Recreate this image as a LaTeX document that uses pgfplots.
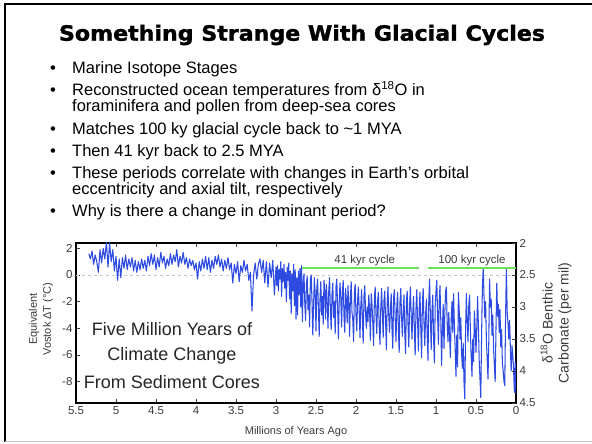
\documentclass[border=0pt]{standalone}
\usepackage{fontspec}
\setmainfont{Liberation Sans}
\newfontfamily\titlefont{DejaVu Sans}[BoldFeatures={FakeBold=1.5}]
\usepackage{graphicx}
\usepackage{pgfplots}
\pgfplotsset{compat=1.18}
\definecolor{dblue}{RGB}{45,75,225}
\definecolor{lgreen}{RGB}{110,225,90}
\definecolor{tickgray}{RGB}{60,60,60}
\begin{document}
\begin{tikzpicture}[x=1pt,y=1pt]
\useasboundingbox (0,0) rectangle (592,444);
\fill[white] (0,0) rectangle (592,444);
\draw[line width=2.5pt] (5,2) -- (5,440) -- (592,440);
\draw[gray!45, line width=1pt] (5,2) -- (592,2);
% title
\node[anchor=center, inner sep=0pt] at (302,409) {\resizebox{486pt}{\height}{\fontsize{21}{25}\titlefont\bfseries Something Strange With Glacial Cycles}};
% bullets
\begin{scope}[every node/.style={anchor=base west, inner sep=0pt, font=\fontsize{16.5}{19}\selectfont}]
\node[anchor=base] at (53,370) {•}; \node at (72,370) {Marine Isotope Stages};
\node[anchor=base] at (53,348) {•}; \node at (72,348) {Reconstructed ocean temperatures from δ\textsuperscript{18}O in};
\node at (72,332) {foraminifera and pollen from deep-sea cores};
\node[anchor=base] at (53,309) {•}; \node at (72,309) {Matches 100 ky glacial cycle back to \textasciitilde1 MYA};
\node[anchor=base] at (53,287) {•}; \node at (72,287) {Then 41 kyr back to 2.5 MYA};
\node[anchor=base] at (53,265) {•}; \node at (72,265) {These periods correlate with changes in Earth’s orbital};
\node at (72,249) {eccentricity and axial tilt, respectively};
\node[anchor=base] at (53,227) {•}; \node at (72,227) {Why is there a change in dominant period?};
\end{scope}
% axis labels
\node[rotate=90, align=center, font=\fontsize{11}{14}\selectfont, text=tickgray] at (41,125) {Equivalent\\Vostok ΔT (°C)};
\node[rotate=90, align=center, font=\fontsize{14}{16}\selectfont, text=tickgray] at (556,121) {δ\textsuperscript{18}O Benthic\\Carbonate (per mil)};
\node[font=\fontsize{11}{13}\selectfont, text=tickgray] at (296,12) {Millions of Years Ago};
\begin{axis}[
  at={(76pt,41pt)}, anchor=south west, scale only axis, width=440pt, height=160pt,
  xmin=0, xmax=5.5, x dir=reverse, ymin=-9.6, ymax=2.4, enlargelimits=false,
  xtick={5.5,5,4.5,4,3.5,3,2.5,2,1.5,1,0.5,0},
  xticklabels={5.5,5,4.5,4,3.5,3,2.5,2,1.5,1,0.5,0},
  ytick={-8,-6,-4,-2,0,2}, yticklabels={-8,-6,-4,-2,0,2},
  tick align=inside, major tick length=4pt, ytick pos=left,
  tick style={tickgray, line width=0.6pt},
  tick label style={font=\fontsize{11.5}{13}\selectfont, text=tickgray},
  axis line style={line width=1.1pt, black},
]
\addplot[gray!45, dashed, line width=0.8pt] coordinates {(5.5,0) (0,0)};
\addplot[dblue, line width=1.05pt, line join=round] coordinates {
(5.34,1.6) (5.32,1.2) (5.30,1.8) (5.28,0.8) (5.26,1.5) (5.24,1.0) (5.22,0.2) (5.20,1.9) (5.18,0.9) (5.16,2.0) (5.14,1.2) (5.12,2.5) (5.10,0.6) (5.08,2.4) (5.06,1.0) (5.04,1.9) (5.02,0.3) (5.00,1.4) (4.98,-0.4) (4.96,1.2) (4.94,-0.2) (4.92,1.3) (4.90,0.5) (4.88,1.5) (4.86,0.4) (4.84,1.2) (4.82,0.6) (4.80,1.3) (4.78,0.3) (4.76,1.1) (4.74,0.2) (4.72,1.0) (4.70,0.4) (4.68,1.2) (4.66,0.5) (4.64,1.1) (4.62,0.3) (4.60,1.4) (4.58,0.7) (4.56,1.6) (4.54,0.8) (4.52,1.5) (4.50,0.4) (4.48,1.3) (4.46,0.6) (4.44,1.7) (4.42,0.9) (4.40,1.4) (4.38,0.5) (4.36,1.2) (4.34,0.7) (4.32,1.6) (4.30,0.8) (4.28,1.5) (4.26,1.0) (4.24,1.9) (4.22,0.6) (4.20,1.4) (4.18,0.9) (4.16,1.7) (4.14,0.8) (4.12,1.3) (4.10,0.5) (4.08,1.2) (4.06,0.7) (4.04,1.1) (4.02,0.4) (4.00,0.9) (3.98,-0.3) (3.96,1.0) (3.94,0.3) (3.92,1.2) (3.90,0.5) (3.88,1.4) (3.86,0.4) (3.84,1.3) (3.82,0.2) (3.80,1.1) (3.78,0.5) (3.76,1.4) (3.74,0.8) (3.72,1.5) (3.70,0.6) (3.68,1.2) (3.66,0.3) (3.64,1.1) (3.62,0.5) (3.60,1.3) (3.58,0.4) (3.56,0.9) (3.54,-0.6) (3.52,0.8) (3.50,0.1) (3.48,1.0) (3.46,-0.5) (3.44,0.7) (3.42,0.2) (3.40,1.1) (3.38,0.3) (3.36,0.8) (3.34,-0.4) (3.32,0.2) (3.30,-2.7) (3.28,0.0) (3.26,0.9) (3.24,-0.3) (3.22,0.8) (3.20,1.2) (3.18,0.2) (3.16,1.1) (3.14,-0.6) (3.12,1.0) (3.10,-0.9) (3.08,0.9) (3.06,-0.2) (3.04,1.1) (3.02,-1.5) (3.00,0.6)
(2.99,-0.8) (2.98,0.7) (2.97,-1.2) (2.96,0.4) (2.95,-0.3) (2.94,1.0) (2.93,-1.6) (2.92,0.5) (2.91,-0.5) (2.90,0.8) (2.89,-1.0) (2.88,0.2) (2.87,-2.0) (2.86,0.6) (2.85,-0.4) (2.84,0.9) (2.83,-1.8) (2.82,0.3) (2.81,-2.9) (2.80,0.1) (2.79,-1.2) (2.78,0.8) (2.77,-2.3) (2.76,0.4) (2.75,-3.3) (2.74,-0.2) (2.73,-3.0) (2.72,0.3) (2.71,-1.5) (2.70,0.5) (2.69,-2.4) (2.68,0.7) (2.67,-3.5)
(2.66,-0.6) (2.65,0.1) (2.64,-2.1) (2.63,-3.4) (2.62,-0.8) (2.61,-0.1) (2.60,-2.6) (2.59,-1.5) (2.58,-3.9) (2.57,-0.4) (2.56,0.0) (2.55,-1.9) (2.54,-4.5) (2.53,-2.2) (2.52,-0.2) (2.51,-1.4) (2.50,-4.2) (2.49,-1.0) (2.48,-0.3) (2.47,-2.5) (2.46,-4.6) (2.45,-1.8) (2.44,-0.5) (2.43,-3.0) (2.42,-1.6) (2.41,-3.7) (2.40,-0.4) (2.39,-1.2) (2.38,-3.3) (2.37,-0.7) (2.36,-2.0) (2.35,-4.0) (2.34,-1.1) (2.33,-0.2) (2.32,-2.7) (2.31,-4.1) (2.30,-1.5) (2.29,-0.6) (2.28,-3.2) (2.27,-2.0) (2.26,-4.4) (2.25,-0.9) (2.24,-0.3) (2.23,-2.4) (2.22,-4.8) (2.21,-2.1) (2.20,-0.6) (2.19,-1.7) (2.18,-3.9) (2.17,-1.3) (2.16,-0.4) (2.15,-3.1) (2.14,-4.3) (2.13,-1.0) (2.12,-1.9) (2.11,-3.6) (2.10,-0.8) (2.09,-2.2) (2.08,-4.6) (2.07,-1.7) (2.06,-0.5) (2.05,-2.8) (2.04,-3.4) (2.03,-5.0) (2.02,-1.3) (2.01,-0.7) (2.00,-3.0) (1.99,-4.2) (1.98,-1.9) (1.97,-0.9) (1.96,-2.6) (1.95,-4.7) (1.94,-2.3) (1.93,-1.1) (1.92,-3.3) (1.91,-5.1) (1.90,-1.6) (1.89,-0.8) (1.88,-2.9) (1.87,-4.0) (1.86,-2.4) (1.85,-3.5) (1.84,-1.5) (1.83,-2.7) (1.82,-4.9) (1.81,-1.4) (1.80,-2.2) (1.79,-3.6) (1.78,-5.3) (1.77,-1.8) (1.76,-0.9) (1.75,-3.0) (1.74,-4.4) (1.73,-2.0) (1.72,-1.3) (1.71,-3.8) (1.70,-5.2) (1.69,-2.5) (1.68,-1.0) (1.67,-2.8) (1.66,-4.7) (1.65,-1.9) (1.64,-1.2) (1.63,-3.4) (1.62,-5.6) (1.61,-2.2) (1.60,-0.9) (1.59,-3.1) (1.58,-4.3) (1.57,-2.6) (1.56,-1.4) (1.55,-4.0) (1.54,-5.5) (1.53,-1.7) (1.52,-1.1) (1.51,-3.3) (1.50,-5.0) (1.49,-2.4) (1.48,-1.3) (1.47,-4.1) (1.46,-5.8) (1.45,-2.0) (1.44,-1.0) (1.43,-3.2) (1.42,-4.6) (1.41,-2.7) (1.40,-1.5) (1.39,-4.4) (1.38,-5.9) (1.37,-2.1) (1.36,-1.2) (1.35,-3.7) (1.34,-5.4) (1.33,-2.3) (1.32,-0.9) (1.31,-3.0) (1.30,-4.8) (1.29,-2.8) (1.28,-1.6) (1.27,-4.2) (1.26,-6.0) (1.25,-2.5) (1.24,-1.1) (1.23,-3.5) (1.22,-5.7) (1.21,-2.6) (1.20,-1.3) (1.19,-4.0) (1.18,-6.2) (1.17,-2.2) (1.16,-1.0) (1.15,-3.6) (1.14,-5.3) (1.13,-3.0) (1.12,-1.8) (1.11,-4.5) (1.10,-6.4) (1.09,-1.9) (1.08,-0.3) (1.07,-3.1) (1.06,-5.6) (1.05,-2.7) (1.04,-1.5) (1.03,-4.8) (1.02,-6.6) (1.01,-2.4)
(1.00,-1.2) (0.99,-0.4) (0.98,-3.0) (0.97,-5.2) (0.96,-2.0) (0.95,-0.8) (0.94,-3.4) (0.93,-6.8) (0.92,-4.0) (0.91,-2.2) (0.90,-5.5) (0.89,-3.0) (0.88,-1.2) (0.87,-0.9) (0.86,-3.6) (0.85,-5.0) (0.84,-2.8) (0.83,-4.6) (0.82,-6.2) (0.81,-3.3) (0.80,-2.0) (0.79,-4.3) (0.78,-1.4) (0.77,-3.8) (0.76,-5.6) (0.75,-7.6) (0.74,-4.5) (0.73,-6.9) (0.72,-1.3) (0.71,-2.6) (0.70,-4.8) (0.69,-3.2) (0.68,-5.9) (0.67,-7.0) (0.66,-5.1) (0.65,-8.0) (0.64,-9.3) (0.63,-4.0) (0.62,-1.4) (0.61,-3.5) (0.60,-5.0) (0.59,-2.3) (0.58,-1.5) (0.57,-4.2) (0.56,-6.1) (0.55,-7.6) (0.54,-4.8) (0.53,-6.5) (0.52,-2.7) (0.51,-4.0) (0.50,-5.8) (0.49,-3.9) (0.48,-1.6) (0.47,-3.8) (0.46,-6.4) (0.45,-7.8) (0.44,-9.2) (0.43,-4.5) (0.42,-1.0) (0.41,0.5) (0.40,-1.5) (0.39,-3.2) (0.38,-2.0) (0.37,-4.9) (0.36,-6.3) (0.35,-7.8) (0.34,-5.0) (0.33,-0.3) (0.32,-2.4) (0.31,-1.8) (0.30,-4.5) (0.29,-3.0) (0.28,-5.6) (0.27,-6.8) (0.26,-8.0) (0.25,-4.0) (0.24,-0.6) (0.23,-3.1) (0.22,-2.2) (0.21,-4.3) (0.20,-2.6) (0.19,-5.4) (0.18,-4.1) (0.17,-6.6) (0.16,-7.2) (0.15,-8.0) (0.14,-8.3) (0.13,-3.0) (0.12,0.5) (0.11,-2.8) (0.10,-3.6) (0.09,-4.8) (0.08,-3.4) (0.07,-5.6) (0.06,-7.2) (0.05,-5.3) (0.04,-6.0) (0.03,-7.1) (0.02,-8.8) (0.01,-6.5) (0.00,-8.9)
};
\addplot[lgreen, line width=2pt] coordinates {(2.67,0.52) (1.21,0.52)};
\addplot[lgreen, line width=2pt] coordinates {(1.10,0.52) (0,0.52)};
\node[font=\fontsize{11.5}{13}\selectfont, text=tickgray] at (axis cs:1.89,1.1) {41 kyr cycle};
\node[font=\fontsize{11.5}{13}\selectfont, text=tickgray] at (axis cs:0.55,1.1) {100 kyr cycle};
\node[font=\fontsize{18}{21}\selectfont, text=black!85] at (axis cs:4.3,-4.05) {Five Million Years of};
\node[font=\fontsize{18}{21}\selectfont, text=black!85] at (axis cs:4.3,-6.08) {Climate Change};
\node[font=\fontsize{18}{21}\selectfont, text=black!85] at (axis cs:4.3,-8.03) {From Sediment Cores};
\end{axis}
\begin{axis}[
  at={(76pt,41pt)}, anchor=south west, scale only axis, width=440pt, height=160pt,
  xmin=0, xmax=5.5, x dir=reverse, ymin=2, ymax=4.5, y dir=reverse, enlargelimits=false,
  axis line style={draw=none}, xtick=\empty,
  ytick={2,2.5,3,3.5,4,4.5}, yticklabels={2,2.5,3,3.5,4,4.5},
  ytick pos=right, yticklabel pos=right,
  tick align=inside, major tick length=4pt,
  tick style={tickgray, line width=0.6pt},
  tick label style={font=\fontsize{11.5}{13}\selectfont, text=tickgray},
]
\end{axis}
\end{tikzpicture}
\end{document}
